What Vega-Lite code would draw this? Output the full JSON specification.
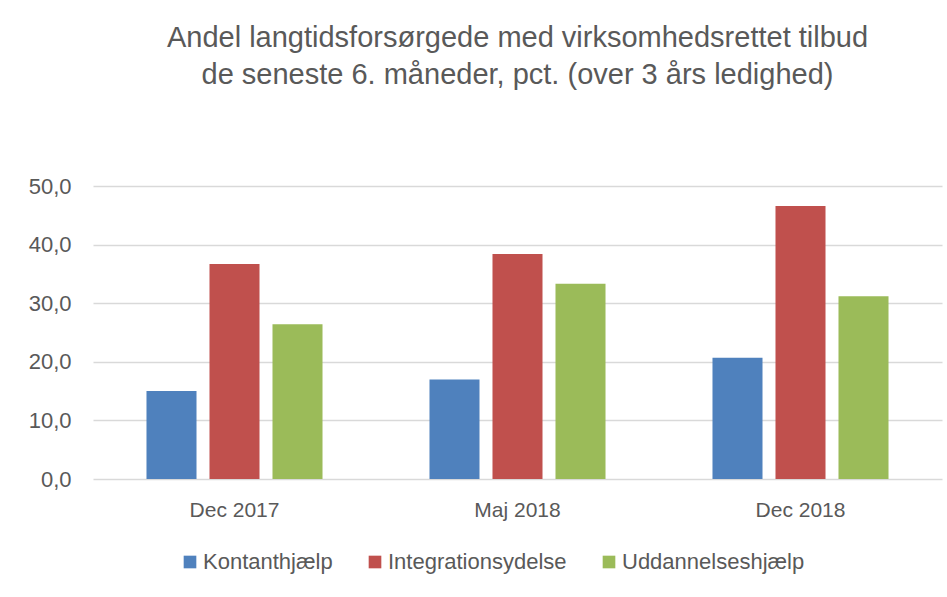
{
  "$schema": "https://vega.github.io/schema/vega-lite/v6.json",
  "width": 849,
  "height": 293,
  "autosize": {"type": "none"},
  "padding": {"left": 93, "top": 186, "right": 5, "bottom": 118},
  "background": "white",
  "title": {
    "text": ["Andel langtidsforsørgede med virksomhedsrettet tilbud", "de seneste 6. måneder, pct. (over 3 års ledighed)"],
    "anchor": "middle",
    "font": "Liberation Sans",
    "fontSize": 29,
    "fontWeight": "normal",
    "color": "#595959",
    "lineHeight": 37,
    "offset": 85
  },
  "data": {
    "values": [
      {"periode": "Dec 2017", "ydelse": "Kontanthjælp", "pct": 15.0},
      {"periode": "Dec 2017", "ydelse": "Integrationsydelse", "pct": 36.7},
      {"periode": "Dec 2017", "ydelse": "Uddannelseshjælp", "pct": 26.4},
      {"periode": "Maj 2018", "ydelse": "Kontanthjælp", "pct": 17.0},
      {"periode": "Maj 2018", "ydelse": "Integrationsydelse", "pct": 38.4},
      {"periode": "Maj 2018", "ydelse": "Uddannelseshjælp", "pct": 33.3},
      {"periode": "Dec 2018", "ydelse": "Kontanthjælp", "pct": 20.7},
      {"periode": "Dec 2018", "ydelse": "Integrationsydelse", "pct": 46.6},
      {"periode": "Dec 2018", "ydelse": "Uddannelseshjælp", "pct": 31.2}
    ]
  },
  "mark": {"type": "bar"},
  "encoding": {
    "x": {
      "field": "periode",
      "type": "nominal",
      "sort": ["Dec 2017", "Maj 2018", "Dec 2018"],
      "scale": {"paddingInner": 0.378, "paddingOuter": 0.189},
      "axis": {
        "title": null,
        "labelAngle": 0,
        "ticks": false,
        "domain": false,
        "labelPadding": 20,
        "labelFont": "Liberation Sans",
        "labelFontSize": 21,
        "labelColor": "#595959"
      }
    },
    "xOffset": {
      "field": "ydelse",
      "type": "nominal",
      "sort": ["Kontanthjælp", "Integrationsydelse", "Uddannelseshjælp"],
      "scale": {"paddingInner": 0.206, "paddingOuter": 0}
    },
    "y": {
      "field": "pct",
      "type": "quantitative",
      "scale": {"domain": [0, 50], "nice": false},
      "axis": {
        "title": null,
        "values": [0, 10, 20, 30, 40, 50],
        "labelExpr": "replace(format(datum.value, '.1f'), '.', ',')",
        "ticks": false,
        "domain": false,
        "gridColor": "#d9d9d9",
        "gridWidth": 1.5,
        "labelPadding": 22,
        "labelFont": "Liberation Sans",
        "labelFontSize": 22,
        "labelColor": "#595959"
      }
    },
    "color": {
      "field": "ydelse",
      "type": "nominal",
      "sort": ["Kontanthjælp", "Integrationsydelse", "Uddannelseshjælp"],
      "scale": {"range": ["#4f81bd", "#c0504d", "#9bbb59"]},
      "legend": {
        "title": null,
        "orient": "none",
        "direction": "horizontal",
        "legendX": 86,
        "legendY": 365,
        "symbolType": "square",
        "symbolSize": 160,
        "symbolStrokeWidth": 0,
        "symbolOpacity": 1,
        "labelFont": "Liberation Sans",
        "labelFontSize": 22,
        "labelLimit": 400,
        "labelColor": "#595959",
        "labelOffset": 2,
        "columnPadding": 31
      }
    }
  },
  "config": {
    "view": {"stroke": null}
  }
}
